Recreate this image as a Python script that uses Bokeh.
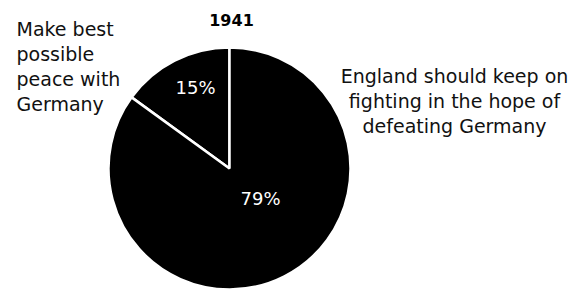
import math
from bokeh.plotting import figure
from bokeh.models import ColumnDataSource
from bokeh.core.properties import value
from bokeh.embed import file_html
from bokeh.resources import INLINE

# ---- data ----
title = "1941"
categories = ["Make best possible peace with Germany",
              "England should keep on fighting in the hope of defeating Germany"]
percents = [15, 79]
pct_labels = ["15%", "79%"]
left_label_lines = ["Make best", "possible", "peace with", "Germany"]
right_label_lines = ["England should keep on", "fighting in the hope of", "defeating Germany"]

# ---- layout ----
W, H = 583, 290
cx, cy, R = 229, 122, 121
FONT = "DejaVu Sans"

p = figure(width=W, height=H, x_range=(0, W), y_range=(0, H),
           output_backend="svg", toolbar_location=None, min_border=0)
p.axis.visible = False
p.grid.visible = False
p.outline_line_color = None
p.background_fill_color = "white"

# wedges: first slice starts at 12 o'clock, counterclockwise; second fills the rest
start0 = math.pi / 2
end0 = start0 + 2 * math.pi * percents[0] / 100
starts = [start0, end0]
ends = [end0, start0 + 2 * math.pi]
src = ColumnDataSource(dict(x=[cx, cx], y=[cy, cy], start=starts, end=ends, cat=categories))
p.wedge(x="x", y="y", radius=R, start_angle="start", end_angle="end", source=src,
        fill_color="black", line_color="white", line_width=2.5)

# percentage labels
p.text(x=[195, 260], y=[203, 92], text=pct_labels, text_color="white",
       text_font=value(FONT), text_font_size="18px", text_align="center",
       text_baseline="middle")

# title
p.text(x=[231], y=[271], text=[title], text_font=value(FONT), text_font_size="16px",
       text_font_style="bold", text_align="center", text_baseline="middle", text_color="black")

# left label
p.text(x=[16] * len(left_label_lines), y=[262 - 25 * i for i in range(len(left_label_lines))],
       text=left_label_lines, text_font=value(FONT), text_font_size="19px",
       text_align="left", text_baseline="middle", text_color="#111111")

# right label
p.text(x=[454] * len(right_label_lines), y=[215 - 25 * i for i in range(len(right_label_lines))],
       text=right_label_lines, text_font=value(FONT), text_font_size="19px",
       text_align="center", text_baseline="middle", text_color="#111111")

open("out.html", "w").write(file_html(p, INLINE))
